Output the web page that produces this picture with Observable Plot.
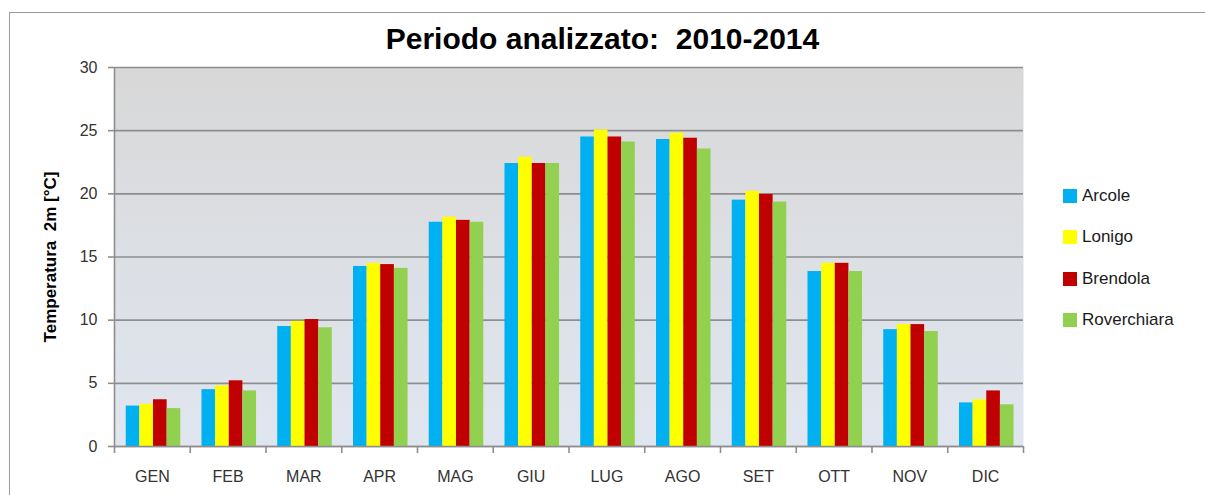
<!DOCTYPE html>
<html>
<head>
<meta charset="utf-8">
<script src="https://cdn.jsdelivr.net/npm/d3@7"></script>
<script src="https://cdn.jsdelivr.net/npm/@observablehq/plot@0.6"></script>
<style>
  html, body { margin: 0; padding: 0; background: #fff; width: 1205px; height: 495px; overflow: hidden; }
  #wrap { position: relative; width: 1205px; height: 495px; font-family: "Liberation Sans", Arial, sans-serif; }
  #border { position: absolute; left: 9px; top: 12px; width: 1400px; height: 600px; border-left: 1.5px solid #9a9a9a; border-top: 1.5px solid #9a9a9a; }
  #chart { position: absolute; left: 0; top: 0; }
  #title { position: absolute; left: 0; width: 1205px; top: 22px; text-align: center; font-weight: bold; font-size: 30px; color: #000; }
  #legend { position: absolute; left: 1063px; top: 175px; }
  .item { display: flex; align-items: center; height: 41.5px; font-size: 17px; color: #1a1a1a; }
  .sw { width: 14px; height: 14px; margin-right: 5px; }
</style>
</head>
<body>
<div id="wrap">
  <div id="border"></div>
  <div id="chart"></div>
  <div id="title">Periodo analizzato:&nbsp; 2010-2014</div>
  <div id="legend"></div>
</div>
<script>
const months = ["GEN","FEB","MAR","APR","MAG","GIU","LUG","AGO","SET","OTT","NOV","DIC"];
const stations = ["Arcole","Lonigo","Brendola","Roverchiara"];
const colors = ["#00b0f0","#ffff00","#c00000","#92d050"];
const arcole      = [3.2, 4.5, 9.5, 14.25, 17.75, 22.4, 24.5, 24.3, 19.5, 13.85, 9.25, 3.45];
const lonigo      = [3.35, 4.8, 9.9, 14.5, 18.15, 22.9, 25.05, 24.8, 20.2, 14.5, 9.65, 3.7];
const brendola    = [3.7, 5.2, 10.05, 14.4, 17.9, 22.4, 24.5, 24.4, 19.95, 14.5, 9.65, 4.4];
const roverchiara = [3.0, 4.4, 9.4, 14.1, 17.75, 22.4, 24.1, 23.55, 19.35, 13.85, 9.1, 3.3];
const yTicks = [0, 5, 10, 15, 20, 25, 30];
const yLabel = "Temperatura  2m [°C]";

const series = [arcole, lonigo, brendola, roverchiara];
const groupOffset = 0.155, barW = 0.18;
const rows = [];
series.forEach((vals, s) => vals.forEach((v, i) => rows.push({
  month: months[i], station: stations[s], value: v,
  x1: i + groupOffset + s * barW, x2: i + groupOffset + (s + 1) * barW
})));

const bgDefs = () => {
  const defs = d3.create("svg:defs");
  const g = defs.append("linearGradient").attr("id", "bg").attr("x1", 0).attr("y1", 0).attr("x2", 0).attr("y2", 1);
  g.append("stop").attr("offset", "0%").attr("stop-color", "#d8d8d8");
  g.append("stop").attr("offset", "100%").attr("stop-color", "#e0e6f0");
  return defs.node();
};

const plot = Plot.plot({
  width: 1205,
  height: 495,
  marginTop: 67,
  marginBottom: 49,
  marginLeft: 114,
  marginRight: 182,
  style: { fontFamily: "'Liberation Sans', Arial, sans-serif", fontSize: "16px", color: "#3a3a3a", background: "transparent" },
  x: { type: "linear", domain: [0, months.length], axis: null },
  y: { domain: [0, 30], axis: null },
  color: { domain: stations, range: colors },
  marks: [
    bgDefs,
    Plot.frame({ fill: "url(#bg)", stroke: null }),
    Plot.gridY(yTicks, { stroke: "#8e8e8e", strokeOpacity: 1, strokeWidth: 1.6 }),
    Plot.rectY(rows, { x1: "x1", x2: "x2", y: "value", fill: "station" }),
    Plot.ruleX([0], { stroke: "#8e8e8e", strokeWidth: 1.6 }),
    Plot.ruleY([0], { stroke: "#8e8e8e", strokeWidth: 1.6 }),
    Plot.axisY(yTicks, { anchor: "left", tickSize: 6, tickPadding: 11, stroke: "#8e8e8e", strokeWidth: 1.6, label: null, fill: "#333" }),
    Plot.axisX(d3.range(months.length + 1), { anchor: "bottom", tickSize: 7, tickFormat: () => "", stroke: "#8e8e8e", strokeWidth: 1.6, label: null }),
    Plot.axisX(d3.range(months.length).map(i => i + 0.5), { anchor: "bottom", tickSize: 0, tickPadding: 24, tickFormat: (d) => months[Math.floor(d)], label: null, fill: "#333" }),
    Plot.text([yLabel], { frameAnchor: "left", textAnchor: "middle", dx: -64, rotate: -90, fontWeight: "bold", fontSize: 17, fill: "#000" })
  ]
});
document.getElementById("chart").appendChild(plot);

const legend = document.getElementById("legend");
stations.forEach((s, i) => {
  const it = document.createElement("div");
  it.className = "item";
  it.innerHTML = `<span class="sw" style="background:${colors[i]}"></span><span>${s}</span>`;
  legend.appendChild(it);
});
</script>
</body>
</html>
